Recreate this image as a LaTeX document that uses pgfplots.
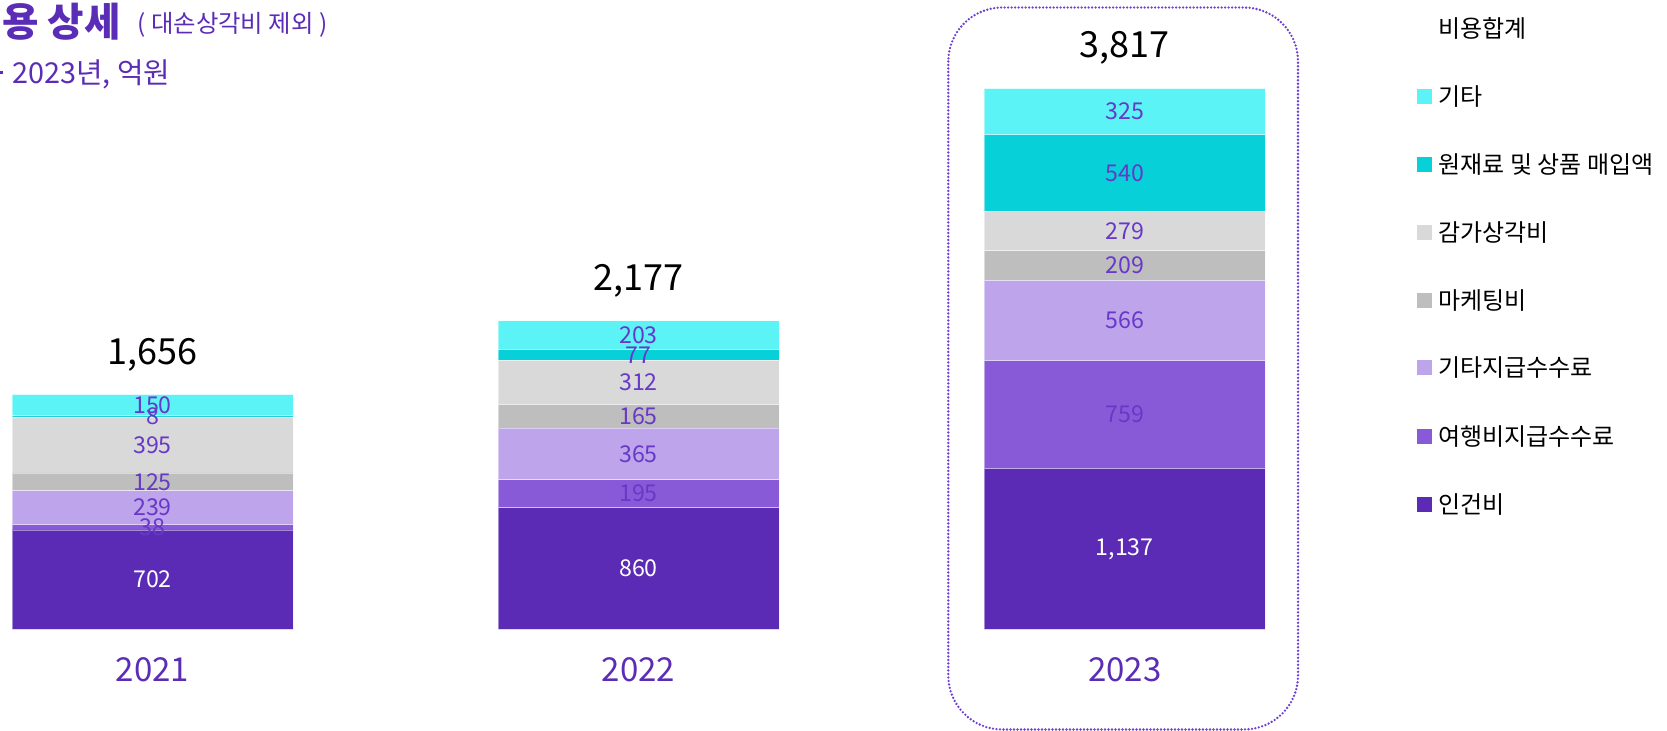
\documentclass[border=0pt]{standalone}
\usepackage{fontspec}
\setmainfont{Noto Sans CJK KR}
\usepackage{pgfplots}
\usepackage{pgfplotstable}
\pgfplotsset{compat=1.18}

\definecolor{inGun}{HTML}{5C2BB6}
\definecolor{yeoHaeng}{HTML}{895AD7}
\definecolor{giTaJi}{HTML}{BDA4EB}
\definecolor{maKe}{HTML}{BEBEBE}
\definecolor{gamGa}{HTML}{D9D9D9}
\definecolor{wonJae}{HTML}{08D0D8}
\definecolor{giTa}{HTML}{5CF3F7}
\definecolor{lblPurple}{HTML}{6838C8}
\definecolor{ttlPurple}{HTML}{5B2DB7}
\definecolor{boxPurple}{HTML}{6E3FD1}

% x = bar centre (pixel columns of the 1667 px wide canvas), values in 억원
\pgfplotstableread{
x      ingun yeohaeng gitaji maketing gamga wonjae gita
152.5  702   38       239    125      395   8      150
638.5  860   195      365    165      312   77     203
1124.7 1137  759      566    209      279   540    325
}\costs

\tikzset{
  seg/.style={fill=#1, draw=white, draw opacity=0.45, line width=0.4pt},
  lblfont/.style={font=\fontsize{11.6pt}{13pt}\selectfont},
}

\begin{document}
\begin{tikzpicture}
\begin{axis}[
  at={(0,0)}, anchor=south west,
  width=833.5pt, height=365.5pt, scale only axis,
  xmin=0, xmax=1667, ymin=-715.9, ymax=4439.6,
  hide axis, clip=false,
  ybar stacked, bar width=281,
  nodes near coords={\pgfmathprintnumber[1000 sep={,}, assume math mode=true]{\rawy}},
  every node near coord/.append style={lblfont, text=lblPurple, anchor=center,
      inner sep=0pt},
]
\addplot[seg=inGun, every node near coord/.append style={text=white},
  visualization depends on={\thisrow{ingun} \as \rawy}] table[x=x, y=ingun] {\costs};
\addplot[seg=yeoHaeng,
  visualization depends on={\thisrow{yeohaeng} \as \rawy}] table[x=x, y=yeohaeng] {\costs};
\addplot[seg=giTaJi,
  visualization depends on={\thisrow{gitaji} \as \rawy}] table[x=x, y=gitaji] {\costs};
\addplot[seg=maKe,
  visualization depends on={\thisrow{maketing} \as \rawy}] table[x=x, y=maketing] {\costs};
\addplot[seg=gamGa,
  visualization depends on={\thisrow{gamga} \as \rawy}] table[x=x, y=gamga] {\costs};
\addplot[seg=wonJae,
  visualization depends on={\thisrow{wonjae} \as \rawy}] table[x=x, y=wonjae] {\costs};
\addplot[seg=giTa,
  visualization depends on={\thisrow{gita} \as \rawy}] table[x=x, y=gita] {\costs};

% totals above the bars
\node[font=\fontsize{18pt}{21pt}\selectfont, yshift=20pt] at (axis cs:152.5,1656) {1,656};
\node[font=\fontsize{18pt}{21pt}\selectfont, yshift=20pt] at (axis cs:638.5,2177) {2,177};
\node[font=\fontsize{18pt}{21pt}\selectfont, yshift=20pt] at (axis cs:1124.7,3817) {3,817};

% year labels
\node[font=\fontsize{16.5pt}{19pt}\selectfont, text=ttlPurple, yshift=-20.2pt] at (axis cs:152.5,0) {2021};
\node[font=\fontsize{16.5pt}{19pt}\selectfont, text=ttlPurple, yshift=-20.2pt] at (axis cs:638.5,0) {2022};
\node[font=\fontsize{16.5pt}{19pt}\selectfont, text=ttlPurple, yshift=-20.2pt] at (axis cs:1124.7,0) {2023};
\end{axis}

% everything else in pixel coordinates (origin top-left)
\begin{scope}[x=0.5pt, y=-0.5pt, shift={(0pt,365.5pt)}]
  % highlight frame round 2023
  \draw[boxPurple, line width=1.3pt, line cap=round, dash pattern=on 0pt off 1.75pt,
        rounded corners=27pt] (948.3,7.5) rectangle (1298,729.5);

  % titles
  \node[anchor=west, inner sep=0pt, text=ttlPurple,
        font=\fontsize{19.8pt}{23pt}\selectfont\bfseries] at (2,22) {용 상세};
  \node[anchor=west, inner sep=0pt, text=ttlPurple,
        font=\fontsize{12.2pt}{14pt}\selectfont] at (137,25) {( 대손상각비 제외 )};
  \fill[ttlPurple] (0,71) rectangle (3,74);
  \node[anchor=west, inner sep=0pt, text=ttlPurple,
        font=\fontsize{14.4pt}{17pt}\selectfont] at (12,74) {2023년, 억원};

  % legend
  \node[anchor=west, inner sep=0pt, font=\fontsize{12pt}{14pt}\selectfont] at (1438,28) {비용합계};
  \foreach \c/\t/\yy in {giTa/기타/97, wonJae/원재료 및 상품 매입액/165, gamGa/감가상각비/233,
                         maKe/마케팅비/301, giTaJi/기타지급수수료/368,
                         yeoHaeng/여행비지급수수료/437, inGun/인건비/505} {
    \fill[\c] (1417,\yy-7.5) rectangle (1432,\yy+7.5);
    \node[anchor=west, inner sep=0pt, font=\fontsize{12pt}{14pt}\selectfont] at (1438,\yy) {\t};
  }
\end{scope}

\pgfresetboundingbox
\path[use as bounding box] (0,0) rectangle (833.5pt,365.5pt);
\end{tikzpicture}
\end{document}
